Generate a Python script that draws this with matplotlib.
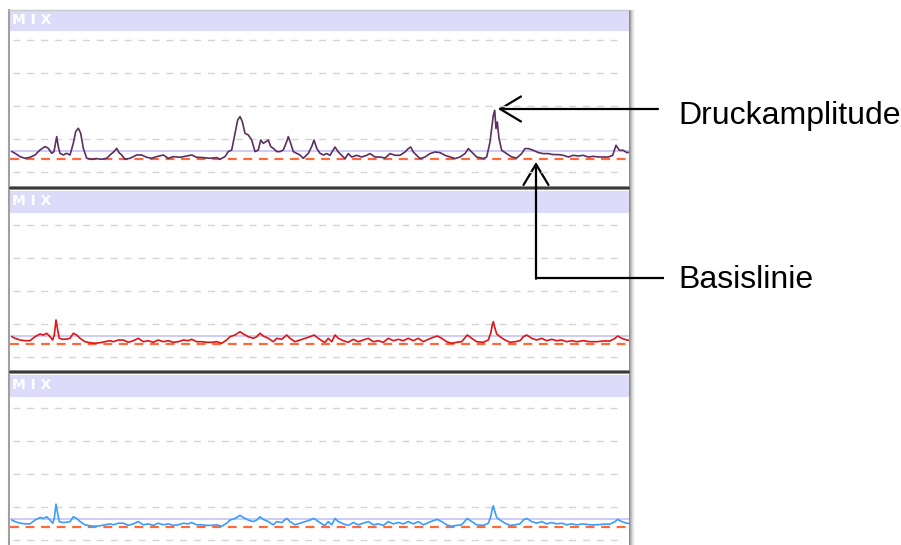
import matplotlib.pyplot as plt
from matplotlib.patches import Rectangle

W, H = 901, 545

# pressure traces: time (px along the strip) and amplitude above the baseline
purple_t = [0, 3, 8, 13, 18, 23, 28, 33, 36.3, 39.7, 42, 44.7, 46.3, 48, 51.3, 54.7, 58, 61.3, 63.7, 66.3,
            68.7, 71.3, 74.7, 79.7, 84.7, 89.7, 94.7, 98, 102, 104.7, 107, 109.7, 113, 118, 124.7, 129.7,
            134.7, 139.7, 144.7, 151.3, 156.3, 161.3, 168, 174.7, 179.7, 184.7, 191.3, 198, 204.7, 208, 213,
            216.3, 219.7, 223, 225.7, 228, 230.3, 233, 236.3, 239.7, 243, 246.3, 248.7, 251.3, 254, 256.3,
            258.7, 261.3, 264.7, 268, 271.3, 274.7, 276.3, 278.7, 281.3, 284.7, 288, 291.3, 296.3, 299.7, 302,
            304.7, 308, 311.3, 314.7, 318, 323, 326.3, 329.7, 333, 336.3, 339.7, 344.7, 349.7, 354.7, 358,
            363, 368, 373, 378, 383, 388, 393, 396.3, 398.7, 401.3, 404.7, 408, 413, 418, 423, 428, 433, 438,
            443, 448, 453, 456.3, 459.7, 464.7, 471.3, 474.7, 478, 479.7, 481.3, 482.7, 484, 485.3, 487,
            489.7, 494.7, 499.7, 504.7, 509.7, 513, 516.3, 521.3, 526.3, 531.3, 536.3, 541.3, 546.3, 551.3,
            556.3, 561.3, 566.3, 571.3, 576.3, 581.3, 586.3, 591.3, 596.3, 600.7, 604, 607.3, 611.3, 614.7,
            619.7]
purple_amp = [7.7, 6, 2.7, 1, 2, 4.3, 9.3, 12.7, 11, 6, 7.7, 22.7, 12.7, 6, 4.3, 6, 4.3, 16, 27.7, 31,
              26, 11, 1, 0, 0.7, 0, 1, 4.3, 7.7, 11, 6.7, 4.3, 0, 1, 4.3, 4.3,
              2, 1, 2.7, 4.3, 1, 2.7, 2, 3.3, 4.3, 2, 1.7, 1, 1.7, 0, 2.7,
              7.7, 9.3, 26, 39.3, 42.7, 37.7, 26, 24.3, 19.3, 7.7, 9.3, 19.3, 16, 17.7, 19.3,
              12.7, 11, 7.7, 7.7, 9.3, 17.7, 22.7, 16, 7.7, 6, 4.3, 1, 6, 12.7, 19.3,
              11, 6, 4.3, 5.7, 4, 12.3, 7.3, 4, 0.7, 5.7, 2.3, 4, 2.3, 4, 5.7,
              2.3, 2.3, 1.3, 5.7, 4, 4, 7.3, 10.7, 12.3, 7.3, 4, 0.7, 2.3, 5.7, 7.3, 6.7, 4, 2.3,
              0.7, 2.3, 5.7, 10.7, 7.3, 2.3, 0.7, 2.3, 17.3, 30.7, 44, 49, 30.7, 37.3, 20.7,
              9, 5.7, 2.3, 1.3, 5.7, 10.7, 10.7, 9, 6.7, 5.7, 5.7, 4.7, 4.7, 4,
              2.3, 4, 3.3, 4, 2.3, 3, 2.3, 2.3, 2.3, 4, 14, 9, 9, 6.7,
              7.3]

red_t = [0, 3, 8, 13, 18, 23, 28, 31.3, 34.7, 38, 40.7, 42.3, 44, 45.7, 47.3, 50.7, 54.7, 58, 61.3, 64.7,
         68, 73, 78, 83, 88, 93, 98, 101.3, 106.3, 111.3, 116.3, 121.3, 126.3, 131.3, 136.3, 141.3, 146.3,
         151.3, 156.3, 161.3, 166.3, 171.3, 176.3, 179.7, 184.7, 189.7, 194.7, 199.7, 204.7, 209.7, 214.7,
         218, 223, 228, 231.3, 236.3, 241.3, 244.7, 248, 251.3, 256.3, 261.3, 264.7, 269.7, 274.7, 278,
         283, 288, 293, 298, 302, 306.3, 311.3, 313, 316.3, 319.7, 323, 326.3, 331.3, 336.3, 341.3, 346.3,
         351.3, 356.3, 361.3, 366.3, 371.3, 376.3, 381.3, 386.3, 391.3, 396.3, 401.3, 406.3, 411.3, 416.3,
         421.3, 425.3, 429.7, 434.7, 439.7, 444.7, 449.7, 455.3, 459.7, 464.7, 471.3, 476.3, 478.7, 480.3,
         481.3, 483, 484.7, 488, 493, 498, 503, 508, 511.3, 514.7, 519.7, 524.7, 529.7, 534.7, 539.7,
         544.7, 549.7, 554.7, 559.7, 564.7, 571.3, 578, 584.7, 591.3, 598, 603, 605.7, 609.7, 614.7, 619.7]
red_amp = [7.3, 5.7, 4, 3.3, 3.3, 7.3, 10, 9, 10.7, 7.3, 4, 9, 24, 14, 5.7, 4.7, 5, 5.7, 10.7, 9,
           5.7, 2.3, 1.3, 0.7, 1.3, 2.3, 3.3, 2.3, 4, 4, 1.7, 3.3, 5.7, 2.3, 3.3, 1.7, 4,
           2.3, 3.3, 1.7, 2.3, 4, 3.3, 4.7, 2.3, 2.3, 1.7, 1.7, 2.3, 0.7, 4,
           7.3, 9, 12.3, 10, 7.3, 5.7, 7.3, 10.7, 8, 5.7, 2.3, 5.7, 4.7, 9, 5.7,
           2.3, 4, 5.7, 7.3, 9, 5.7, 2.3, 1.7, 5.7, 2.3, 9, 5.7, 3.3, 1.7, 4.7, 2.3,
           4, 5.7, 2.3, 3.3, 1.7, 5.7, 3.3, 4.7, 3.3, 5.7, 3.3, 5.7, 2.3, 4.7,
           6.7, 8, 5.7, 2.3, 0.7, 1.7, 2.3, 9, 5.7, 2.3, 1.7, 4, 10.7, 19,
           22.3, 15.7, 10, 7.3, 4, 1.7, 2.3, 3.3, 7.3, 9, 5.7, 4, 5.7, 3.3, 4.7,
           3.3, 4, 2.3, 3.3, 2.3, 3.3, 2.3, 2.3, 3, 3, 5.7, 8, 5.7, 4, 3.3]

# the blue channel follows the red one
blue_t = red_t
blue_amp = [a * 0.95 for a in red_amp]

channel_label = "M I X"
grid_levels = [-13, 20, 53, 86, 119]
mean_level = 8
labels = ["Druckamplitude", "Basislinie"]

# panel geometry in figure pixels: header top, data top, data bottom, baseline y
panels = [
    (11, 31, 186, 159.3, "#5b2f5e", purple_t, purple_amp),
    (191, 213, 370, 344, "#e01414", red_t, red_amp),
    (375, 397, 545, 527, "#3d9bff", blue_t, blue_amp),
]
x_left, x_right = 10, 629

fig = plt.figure(figsize=(W / 100, H / 100), dpi=100)
bg = fig.add_axes([0, 0, 1, 1])
bg.set_xlim(0, W)
bg.set_ylim(H, 0)
bg.axis("off")

# window frame and shadow
bg.add_patch(Rectangle((x_left, 10), x_right - x_left, H - 10, fc="white", ec="none"))
for i, c in enumerate(["#8c8c8c", "#a8a8a8", "#c4c4c4", "#dadada", "#ececec", "#f6f6f6"]):
    bg.add_patch(Rectangle((x_right + i, 10), 1, H - 10, fc=c, ec="none"))
bg.plot([x_left - 1, x_left - 1], [10, H], color="#a0a0a0", lw=1.5)
bg.plot([x_left - 1, x_right], [10, 10], color="#c8c8c8", lw=1)

for k, (htop, dtop, dbot, base, col, t, amp) in enumerate(panels):
    bg.add_patch(Rectangle((x_left, htop), x_right - x_left, dtop - htop, fc="#dcdcfa", ec="none"))
    bg.text(x_left + 2, (htop + dtop) / 2 - 1, channel_label, color="white", fontsize=10,
            fontweight="bold", va="center", ha="left", family="DejaVu Sans")
    if k < 2:
        bg.add_patch(Rectangle((x_left, dbot), x_right - x_left, 4, fc="#8a8a8a", ec="none"))
        bg.plot([x_left, x_right], [dbot + 2, dbot + 2], color="#2a2a2a", lw=1.2)

    ax = fig.add_axes([x_left / W, 1 - dbot / H, (x_right - x_left) / W, (dbot - dtop) / H])
    ax.patch.set_alpha(0)
    ax.set_xlim(-2, x_right - x_left - 2)
    ax.set_ylim(base - dbot, base - dtop)
    for g in grid_levels:
        ax.axhline(g, color="#d4d4d4", lw=1, dashes=(5, 5), xmin=0.005, xmax=0.99)
    ax.axhline(mean_level, color="#c8c8f4", lw=1.3)
    ax.axhline(0, color="#ff6a3a", lw=1.6, dashes=(4, 3))
    ax.plot(t, amp, color=col, lw=1.2)
    ax.axis("off")

# annotations
arrow = dict(arrowstyle="->,head_length=1.25,head_width=0.75", color="black",
             lw=1.6, shrinkA=0, shrinkB=0, mutation_scale=12)
bg.annotate("", xy=(498, 109), xytext=(658, 109), arrowprops=arrow)
bg.plot([664, 536], [278, 278], color="black", lw=1.6, solid_capstyle="butt")
bg.annotate("", xy=(536, 162), xytext=(536, 278.8), arrowprops=arrow)
bg.text(678, 124, labels[0], fontsize=23, family="Liberation Sans", va="baseline", ha="left")
bg.text(678, 288, labels[1], fontsize=23, family="Liberation Sans", va="baseline", ha="left")

fig.savefig("out.png", dpi=100)
